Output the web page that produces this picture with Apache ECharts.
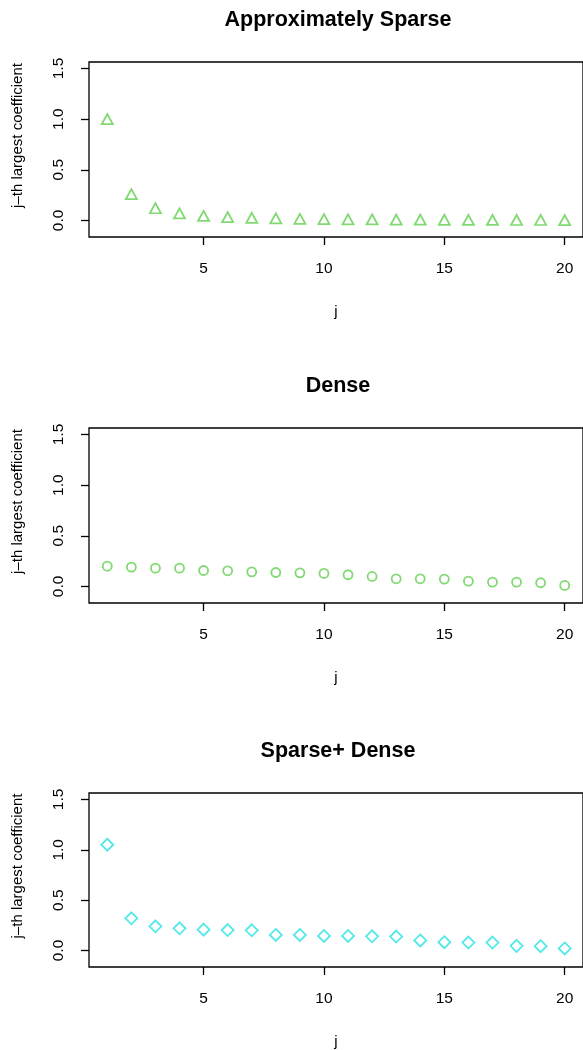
<!DOCTYPE html>
<html>
<head>
<meta charset="utf-8">
<script src="https://cdn.jsdelivr.net/npm/echarts@6/dist/echarts.min.js"></script>
<style>
  html, body { margin: 0; padding: 0; background: #fff; }
  #chart { width: 583px; height: 1050px; }
</style>
</head>
<body>
<div id="chart"></div>
<script>
// index j and the j-th largest coefficient of each panel
var jIndex = [1, 2, 3, 4, 5, 6, 7, 8, 9, 10, 11, 12, 13, 14, 15, 16, 17, 18, 19, 20];
var approxSparse = [1.00, 0.26, 0.12, 0.07, 0.045, 0.033, 0.025, 0.019, 0.015, 0.012,
                    0.010, 0.009, 0.008, 0.007, 0.006, 0.005, 0.005, 0.004, 0.004, 0.003];
var dense = [0.20, 0.19, 0.18, 0.18, 0.157, 0.154, 0.144, 0.137, 0.134, 0.128,
             0.115, 0.098, 0.075, 0.075, 0.072, 0.052, 0.042, 0.042, 0.036, 0.010];
var sparseDense = [1.05, 0.32, 0.24, 0.22, 0.207, 0.203, 0.20, 0.154, 0.154, 0.144,
                   0.144, 0.141, 0.138, 0.10, 0.082, 0.079, 0.079, 0.046, 0.043, 0.02];

var panelTitles = ['Approximately Sparse', 'Dense', 'Sparse+ Dense'];
var xTicks = [5, 10, 15, 20];
var yTicks = [0, 0.5, 1, 1.5];
var xName = 'j';
var yName = 'j\u2013th largest coefficient';

var FONT = 'Liberation Sans, Arial, Helvetica, sans-serif';
var panelTops = [62, 428, 793];
var panels = [
  { values: approxSparse, symbol: 'triangle', size: [11, 10], color: '#61D04F' },
  { values: dense, symbol: 'circle', size: 9, color: '#61D04F' },
  { values: sparseDense, symbol: 'diamond', size: 12, color: '#28E2E5' }
];

var chart = echarts.init(document.getElementById('chart'), null, { renderer: 'canvas' });

var grids = [], xAxes = [], yAxes = [], titles = [], series = [];

panels.forEach(function (p, i) {
  grids.push({
    left: 89, top: panelTops[i], width: 498, height: 175,
    show: true, borderColor: '#000', borderWidth: 1.3, backgroundColor: 'transparent'
  });

  titles.push({
    text: panelTitles[i],
    left: 338, top: panelTops[i] - 53, textAlign: 'center', padding: 0,
    textStyle: { fontFamily: FONT, fontSize: 21.5, fontWeight: 'bold', color: '#000' }
  });

  xAxes.push({
    gridIndex: i, type: 'value', min: 0.24, max: 20.76,
    splitLine: { show: false },
    axisLine: { show: false, onZero: false },
    axisTick: { show: true, length: 8, customValues: xTicks, lineStyle: { color: '#000', width: 1.3 } },
    axisLabel: { customValues: xTicks, margin: 24, fontSize: 15.5, color: '#000', fontFamily: FONT },
    name: xName, nameLocation: 'middle', nameGap: 67,
    nameTextStyle: { fontSize: 15, color: '#000', fontFamily: FONT }
  });

  yAxes.push({
    gridIndex: i, type: 'value', min: -0.164, max: 1.564,
    splitLine: { show: false },
    axisLine: { show: false, onZero: false },
    axisTick: { show: true, length: 8, customValues: yTicks, lineStyle: { color: '#000', width: 1.3 } },
    axisLabel: {
      customValues: yTicks, rotate: 90, margin: 22, fontSize: 15.5, color: '#000', fontFamily: FONT,
      formatter: function (v) { return v.toFixed(1); }
    },
    name: yName, nameLocation: 'middle', nameGap: 64,
    // R puts this label a little above the box centre in the source figure
    nameTextStyle: { fontSize: 15, color: '#000', fontFamily: FONT, padding: [0, 0, 0, 28] }
  });

  series.push({
    type: 'scatter', xAxisIndex: i, yAxisIndex: i,
    symbol: p.symbol, symbolSize: p.size,
    itemStyle: { color: 'rgba(255,255,255,0)', borderColor: p.color, borderWidth: 1.8 },
    data: jIndex.map(function (x, k) { return [x, p.values[k]]; }),
    silent: true
  });
});

chart.setOption({
  animation: false,
  backgroundColor: '#fff',
  title: titles,
  grid: grids,
  xAxis: xAxes,
  yAxis: yAxes,
  series: series
});
</script>
</body>
</html>
